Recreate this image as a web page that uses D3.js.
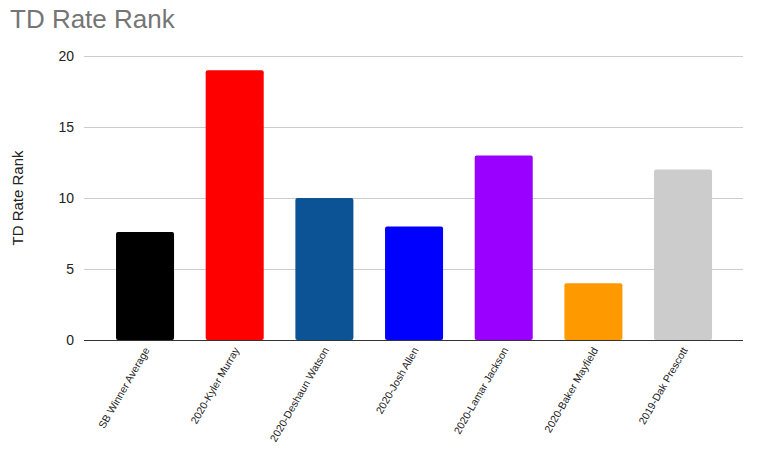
<!DOCTYPE html>
<html><head><meta charset="utf-8">
<script src="https://cdn.jsdelivr.net/npm/d3@7"></script>
<style>body{margin:0;background:#fff;}svg{display:block;font-family:Arial,"Liberation Sans",sans-serif;}</style>
</head><body><svg id="c" width="765" height="462"></svg>
<script>
const categories = ["SB Winner Average","2020-Kyler Murray","2020-Deshaun Watson","2020-Josh Allen","2020-Lamar Jackson","2020-Baker Mayfield","2019-Dak Prescott"];
const values = [7.6, 19, 10, 8, 13, 4, 12];
const colors = ["#000000","#ff0000","#0b5394","#0000ff","#9900ff","#ff9900","#cccccc"];
const yTicks = [0,5,10,15,20];

const svg = d3.select("#c");
const x = d3.scaleBand().domain(categories).range([100.2, 727.9]).paddingInner(0.353).paddingOuter(0.1765);
const y = d3.scaleLinear().domain([0,20]).range([340,56]);

svg.append("text").attr("x",10).attr("y",28).attr("font-size",26).attr("fill","#757575").text("TD Rate Rank");

const gy = svg.append("g").attr("transform","translate(84,0)")
  .call(d3.axisLeft(y).tickValues(yTicks).tickSize(-659).tickPadding(10));
gy.select(".domain").remove();
gy.selectAll(".tick line").attr("stroke","#cccccc");
gy.selectAll(".tick text").attr("font-size",14).attr("fill","#222").attr("font-family","Arial,'Liberation Sans',sans-serif");

svg.append("text").attr("transform","translate(23,198) rotate(-90)").attr("text-anchor","middle")
  .attr("font-size",15).attr("fill","#222").text("TD Rate Rank");

svg.selectAll("rect.bar").data(values).join("rect").attr("class","bar")
  .attr("x",(d,i)=>x(categories[i])).attr("width",x.bandwidth())
  .attr("y",d=>y(d)).attr("height",d=>y(0)-y(d)).attr("rx",2).attr("fill",(d,i)=>colors[i]);

const gx = svg.append("g").attr("transform","translate(0,340)").call(d3.axisBottom(x).tickSize(0).tickPadding(0));
gx.select(".domain").remove();
svg.append("line").attr("x1",84).attr("x2",743).attr("y1",340.5).attr("y2",340.5).attr("stroke","#333");
gx.selectAll(".tick text").attr("font-size",10.5).attr("fill","#222").attr("font-family","Arial,'Liberation Sans',sans-serif")
  .attr("text-anchor","end").attr("dy",0).attr("transform","translate(5,10) rotate(-60)");
</script></body></html>
